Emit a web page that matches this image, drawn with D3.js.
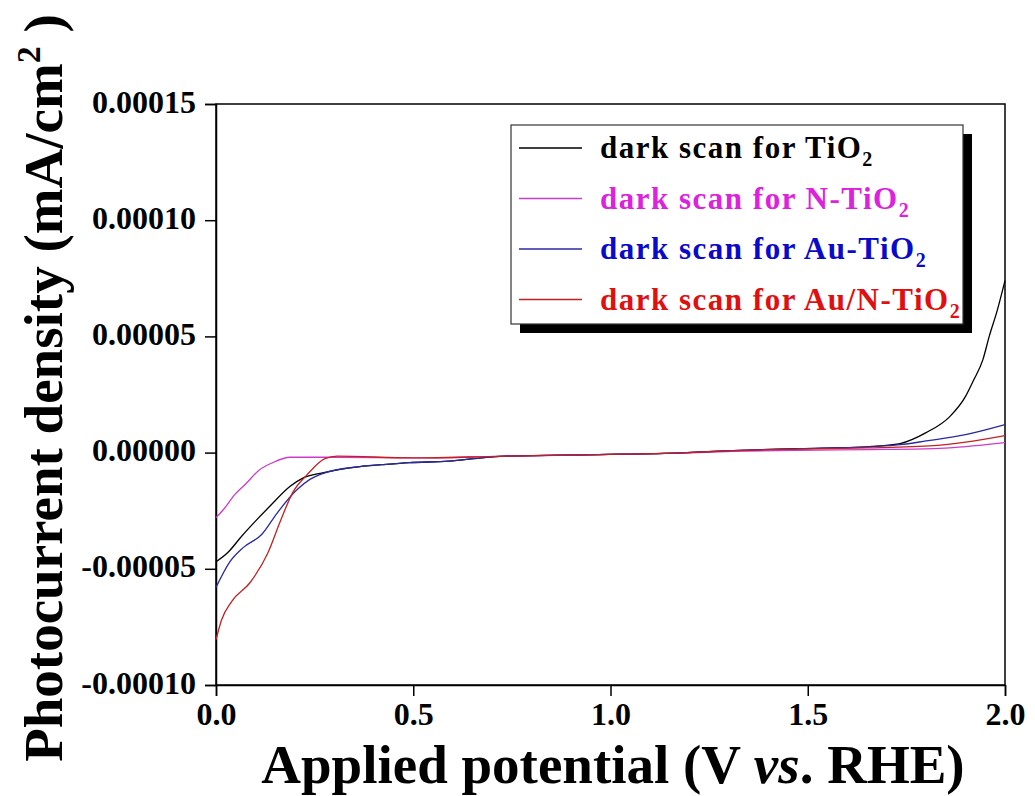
<!DOCTYPE html>
<html>
<head>
<meta charset="utf-8">
<script src="https://cdn.jsdelivr.net/npm/d3@7"></script>
<style>
  body { margin: 0; background: #fff; }
  svg text { font-family: "Liberation Serif", "Times New Roman", serif; font-weight: bold; }
</style>
</head>
<body>
<div id="chart"></div>
<script>
// Potential (V vs. RHE) and current density (mA/cm2)
var tio2X = [0, 0.03, 0.065, 0.10, 0.137, 0.188, 0.22, 0.27, 0.365, 0.42, 0.49, 0.59, 0.68, 0.72, 0.97, 1.18, 1.31, 1.48, 1.65, 1.71, 1.734, 1.80, 1.86, 1.90, 1.92, 1.944, 1.96, 1.98, 2.0];
var tio2Y = [-4.7e-5, -4.3e-5, -3.6e-5, -2.95e-5, -2.3e-5, -1.45e-5, -1.1e-5, -0.87e-5, -0.6e-5, -0.52e-5, -0.43e-5, -0.37e-5, -0.215e-5, -0.16e-5, -0.086e-5, -0.013e-5, 0.086e-5, 0.17e-5, 0.25e-5, 0.33e-5, 0.39e-5, 0.86e-5, 1.55e-5, 2.42e-5, 3.1e-5, 4.0e-5, 5.0e-5, 6.1e-5, 7.4e-5];

var nX = [0, 0.019, 0.048, 0.078, 0.106, 0.144, 0.188, 0.3, 0.5, 0.72, 0.97, 1.18, 1.31, 1.48, 1.65, 1.82, 1.9, 2.0];
var nY = [-2.8e-5, -2.45e-5, -1.8e-5, -1.3e-5, -0.8e-5, -0.43e-5, -0.2e-5, -0.2e-5, -0.23e-5, -0.16e-5, -0.086e-5, -0.02e-5, 0.05e-5, 0.1e-5, 0.13e-5, 0.17e-5, 0.26e-5, 0.43e-5];

var auX = [0, 0.035, 0.068, 0.117, 0.155, 0.205, 0.238, 0.27, 0.365, 0.42, 0.49, 0.59, 0.68, 0.72, 0.97, 1.18, 1.31, 1.48, 1.65, 1.734, 1.80, 1.90, 2.0];
var auY = [-5.8e-5, -4.7e-5, -4.1e-5, -3.5e-5, -2.6e-5, -1.6e-5, -1.15e-5, -0.9e-5, -0.6e-5, -0.52e-5, -0.43e-5, -0.37e-5, -0.215e-5, -0.16e-5, -0.086e-5, -0.013e-5, 0.086e-5, 0.17e-5, 0.25e-5, 0.34e-5, 0.5e-5, 0.77e-5, 1.2e-5];

var auNX = [0, 0.014, 0.04, 0.086, 0.132, 0.162, 0.195, 0.231, 0.276, 0.307, 0.5, 0.72, 0.97, 1.18, 1.31, 1.48, 1.65, 1.82, 1.90, 2.0];
var auNY = [-8.05e-5, -7.2e-5, -6.4e-5, -5.6e-5, -4.3e-5, -3.0e-5, -1.7e-5, -0.95e-5, -0.26e-5, -0.15e-5, -0.23e-5, -0.16e-5, -0.086e-5, -0.01e-5, 0.086e-5, 0.15e-5, 0.2e-5, 0.3e-5, 0.45e-5, 0.73e-5];

var seriesNames = ["TiO", "N-TiO", "Au-TiO", "Au/N-TiO"];
var lineColors = ["#000000", "#cc3ccc", "#2a2aa0", "#c42020"];
var textColors = ["#000000", "#dd22dd", "#0a0acc", "#e01010"];

var xTicks = [0, 0.5, 1.0, 1.5, 2.0];
var yTicks = [-0.0001, -0.00005, 0, 0.00005, 0.0001, 0.00015];
var yTickLabels = ["-0.00010", "-0.00005", "0.00000", "0.00005", "0.00010", "0.00015"];

function init() {
    var width = 1035;
    var height = 796;
    var margin = { left: 216, right: 30, top: 104, bottom: 111 };

    var svg = d3.select("#chart")
        .append("svg")
        .attr("width", width)
        .attr("height", height);

    var x = d3.scaleLinear().domain([0, 2]).range([margin.left, width - margin.right]);
    var y = d3.scaleLinear().domain([-0.0001, 0.00015]).range([height - margin.bottom, margin.top]);

    // frame
    svg.append("rect")
        .attr("x", x(0)).attr("y", y(0.00015))
        .attr("width", x(2) - x(0)).attr("height", y(-0.0001) - y(0.00015))
        .attr("fill", "none").attr("stroke", "#000").attr("stroke-width", 1.5);

    // x axis, major and minor ticks
    var xAxis = svg.append("g").attr("transform", "translate(0," + y(-0.0001) + ")");
    xAxis.call(d3.axisBottom(x).tickValues(d3.range(0, 2.0001, 0.125)).tickSize(6).tickFormat(""));
    xAxis.call(d3.axisBottom(x).tickValues(xTicks).tickSize(11).tickFormat(d3.format(".1f")));
    xAxis.selectAll(".domain").attr("stroke-width", 1.5);
    xAxis.selectAll("line").attr("stroke-width", 1.5);
    xAxis.selectAll("text")
        .attr("font-size", 32).attr("fill", "#000")
        .attr("y", 17).attr("dy", "0.71em");

    // y axis
    var yAxis = svg.append("g").attr("transform", "translate(" + x(0) + ",0)");
    yAxis.call(d3.axisLeft(y).tickValues(d3.range(-0.0001, 0.000150001, 0.0000125)).tickSize(5).tickFormat(""));
    yAxis.call(d3.axisLeft(y).tickValues(yTicks).tickSize(11).tickFormat(function (d, i) { return yTickLabels[i]; }));
    yAxis.selectAll(".domain").attr("stroke-width", 1.5);
    yAxis.selectAll("line").attr("stroke-width", 1.5);
    yAxis.selectAll("text")
        .attr("font-size", 32).attr("fill", "#000")
        .attr("x", -20).attr("dy", "0.25em");

    // curves
    var line = d3.line()
        .x(function (d) { return x(d[0]); })
        .y(function (d) { return y(d[1]); })
        .curve(d3.curveMonotoneX);

    var allSeries = [
        d3.zip(tio2X, tio2Y),
        d3.zip(nX, nY),
        d3.zip(auX, auY),
        d3.zip(auNX, auNY)
    ];

    svg.append("g").selectAll("path")
        .data(allSeries)
        .enter()
        .append("path")
        .attr("d", line)
        .attr("fill", "none")
        .attr("stroke", function (d, i) { return lineColors[i]; })
        .attr("stroke-width", 1.3);

    // legend with shadow
    var lg = svg.append("g").attr("transform", "translate(511,125)");
    lg.append("rect").attr("x", 9).attr("y", 9).attr("width", 452).attr("height", 199).attr("fill", "#000");
    lg.append("rect").attr("x", 0).attr("y", 0).attr("width", 452).attr("height", 199)
        .attr("fill", "#fff").attr("stroke", "#333").attr("stroke-width", 1.2);

    var rows = lg.selectAll(".row")
        .data(seriesNames)
        .enter()
        .append("g")
        .attr("class", "row")
        .attr("transform", function (d, i) { return "translate(0," + (23 + i * 50.5) + ")"; });

    rows.append("line")
        .attr("x1", 8).attr("x2", 71)
        .attr("stroke", function (d, i) { return lineColors[i]; })
        .attr("stroke-width", 1.3);

    var t = rows.append("text")
        .attr("x", 89).attr("y", 10)
        .attr("font-size", 31)
        .attr("letter-spacing", 1.5)
        .attr("fill", function (d, i) { return textColors[i]; });
    t.append("tspan").text(function (d) { return "dark scan for " + d; });
    t.append("tspan").attr("dy", 8).attr("font-size", 20).text("2");

    // axis titles
    var xt = svg.append("text")
        .attr("x", 613).attr("y", 783)
        .attr("text-anchor", "middle")
        .attr("font-size", 55);
    xt.append("tspan").text("Applied potential (V ");
    xt.append("tspan").attr("font-style", "italic").text("vs");
    xt.append("tspan").text(". RHE)");

    var yt = svg.append("text")
        .attr("transform", "translate(62,388) rotate(-90)")
        .attr("text-anchor", "middle")
        .attr("font-size", 55);
    yt.append("tspan").text("Photocurrent density (mA/cm");
    yt.append("tspan").attr("dy", -22).attr("font-size", 34).text("2");
    yt.append("tspan").attr("dy", 22).text(" )");
}

window.onload = init;
</script>
</body>
</html>
